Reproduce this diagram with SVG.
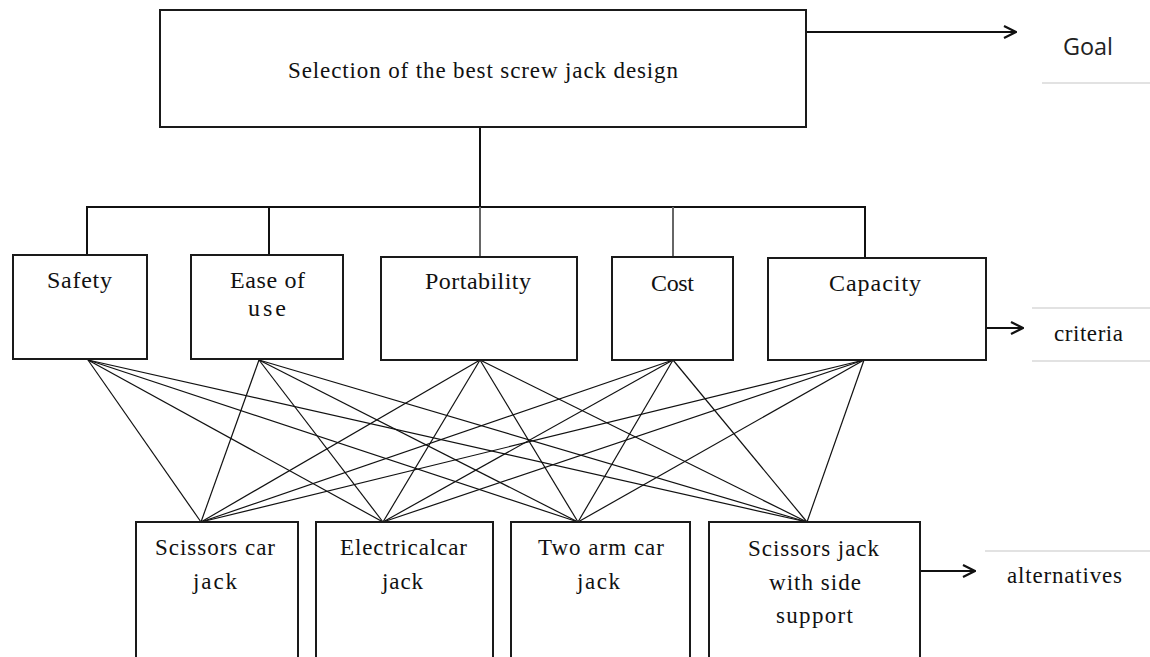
<svg xmlns="http://www.w3.org/2000/svg" width="1150" height="657" viewBox="0 0 1150 657">
<style>
.box{fill:#fff;stroke:#1a1a1a;stroke-width:2}
.t{font-family:"Liberation Serif","DejaVu Serif",serif;fill:#111;text-anchor:middle}
.c{font-size:24px}
.a{font-size:23px}
.g{font-size:23px}
.lab{font-family:"Open Sans","Liberation Sans",sans-serif;font-size:23px;fill:#222}
.ser{font-family:"Liberation Serif",serif;font-size:23px;fill:#111}
.tree{stroke:#111;stroke-width:2;fill:none}
.treeg{stroke:#666;stroke-width:2;fill:none}
.web{stroke:#111;stroke-width:1.2;fill:none}
.arr{stroke:#111;stroke-width:2;fill:none;marker-end:url(#head)}
.faint{stroke:#e2e2e2;stroke-width:2}
</style>
<defs>
<marker id="head" viewBox="0 0 14 14" refX="13" refY="7" markerWidth="14" markerHeight="14" markerUnits="userSpaceOnUse" orient="auto">
<path d="M1,1 L13,7 L1,13" fill="none" stroke="#111" stroke-width="2.2"/>
</marker>
</defs>
<rect width="1150" height="657" fill="#fff"/>

<g id="labels-bg">
<line class="faint" x1="1042" y1="83" x2="1150" y2="83"/>
<line class="faint" x1="1032" y1="308" x2="1150" y2="308"/>
<line class="faint" x1="1032" y1="361" x2="1150" y2="361"/>
<line class="faint" x1="985" y1="551" x2="1150" y2="551"/>
</g>

<g id="connectors">
<line class="tree" x1="480" y1="127" x2="480" y2="207"/>
<polyline class="tree" points="87,255 87,207 865,207 865,257"/>
<line class="tree" x1="269" y1="207" x2="269" y2="255"/>
<line class="treeg" x1="480" y1="207" x2="480" y2="257"/>
<line class="treeg" x1="673" y1="207" x2="673" y2="257"/>
<line class="arr" x1="806" y1="32" x2="1016" y2="32"/>
<line class="arr" x1="986" y1="328" x2="1023" y2="328"/>
<line class="arr" x1="920" y1="571" x2="975" y2="571"/>
<g id="web">
<line class="web" x1="88" y1="360" x2="201" y2="522"/>
<line class="web" x1="88" y1="360" x2="383" y2="522"/>
<line class="web" x1="88" y1="360" x2="578" y2="522"/>
<line class="web" x1="88" y1="360" x2="807" y2="522"/>
<line class="web" x1="259" y1="360" x2="201" y2="522"/>
<line class="web" x1="259" y1="360" x2="383" y2="522"/>
<line class="web" x1="259" y1="360" x2="578" y2="522"/>
<line class="web" x1="259" y1="360" x2="807" y2="522"/>
<line class="web" x1="480" y1="360" x2="201" y2="522"/>
<line class="web" x1="480" y1="360" x2="383" y2="522"/>
<line class="web" x1="480" y1="360" x2="578" y2="522"/>
<line class="web" x1="480" y1="360" x2="807" y2="522"/>
<line class="web" x1="673" y1="360" x2="201" y2="522"/>
<line class="web" x1="673" y1="360" x2="383" y2="522"/>
<line class="web" x1="673" y1="360" x2="578" y2="522"/>
<line class="web" x1="673" y1="360" x2="807" y2="522"/>
<line class="web" x1="864" y1="360" x2="201" y2="522"/>
<line class="web" x1="864" y1="360" x2="383" y2="522"/>
<line class="web" x1="864" y1="360" x2="578" y2="522"/>
<line class="web" x1="864" y1="360" x2="807" y2="522"/>
</g>
</g>

<g id="goal">
<rect class="box" x="160" y="10" width="646" height="117"/>
<text class="t g" x="483" y="78" textLength="390" lengthAdjust="spacing">Selection of the best screw jack design</text>
</g>

<g id="safety">
<rect class="box" x="13" y="255" width="134" height="104"/>
<text class="t c" x="79.5" y="288" textLength="65" lengthAdjust="spacing">Safety</text>
</g>
<g id="ease">
<rect class="box" x="191" y="255" width="152" height="104"/>
<text class="t c" x="267.5" y="288" textLength="75" lengthAdjust="spacing">Ease of</text>
<text class="t c" x="267" y="316" textLength="38" lengthAdjust="spacing">use</text>
</g>
<g id="portability">
<rect class="box" x="381" y="257" width="196" height="103"/>
<text class="t c" x="478" y="289" textLength="106" lengthAdjust="spacing">Portability</text>
</g>
<g id="cost">
<rect class="box" x="612" y="257" width="121" height="103"/>
<text class="t c" x="672.5" y="291" textLength="43" lengthAdjust="spacing">Cost</text>
</g>
<g id="capacity">
<rect class="box" x="768" y="258" width="218" height="102"/>
<text class="t c" x="875" y="291" textLength="92" lengthAdjust="spacing">Capacity</text>
</g>

<g id="scissors-car-jack">
<rect class="box" x="136" y="522" width="162" height="145"/>
<text class="t a" x="215" y="555" textLength="120" lengthAdjust="spacing">Scissors car</text>
<text class="t a" x="215" y="589" textLength="44" lengthAdjust="spacing">jack</text>
</g>
<g id="electrical-car-jack">
<rect class="box" x="316" y="522" width="177" height="145"/>
<text class="t a" x="403.5" y="555" textLength="127" lengthAdjust="spacing">Electricalcar</text>
<text class="t a" x="402.5" y="589" textLength="41" lengthAdjust="spacing">jack</text>
</g>
<g id="two-arm-car-jack">
<rect class="box" x="511" y="522" width="179" height="145"/>
<text class="t a" x="601" y="555" textLength="126" lengthAdjust="spacing">Two arm car</text>
<text class="t a" x="598.5" y="589" textLength="43" lengthAdjust="spacing">jack</text>
</g>
<g id="scissors-jack-side-support">
<rect class="box" x="709" y="522" width="211" height="145"/>
<text class="t a" x="813.5" y="556" textLength="131" lengthAdjust="spacing">Scissors jack</text>
<text class="t a" x="815" y="590" textLength="92" lengthAdjust="spacing">with side</text>
<text class="t a" x="814.5" y="623" textLength="77" lengthAdjust="spacing">support</text>
</g>

<g id="goal-label">
<text class="lab" x="1063" y="55" textLength="50" lengthAdjust="spacingAndGlyphs">Goal</text>
</g>
<g id="criteria-label">
<text class="ser" x="1054" y="341" textLength="69" lengthAdjust="spacing">criteria</text>
</g>
<g id="alternatives-label">
<text class="ser" x="1007" y="583" textLength="115" lengthAdjust="spacing">alternatives</text>
</g>
</svg>
